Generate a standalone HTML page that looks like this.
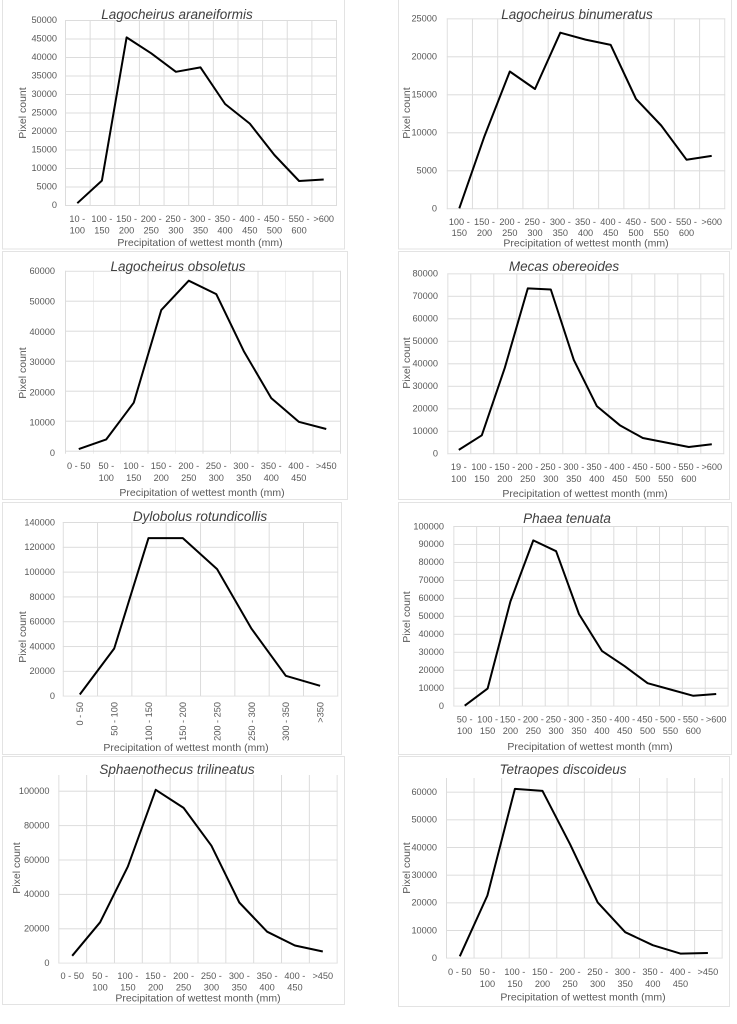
<!DOCTYPE html>
<html><head><meta charset="utf-8"><style>
html,body{margin:0;padding:0;background:#fff}
svg{display:block}
text{font-family:"Liberation Sans",sans-serif;fill:#595959}
.t{font-size:9.2px}
.yl{font-size:9.2px;text-anchor:end}
.xl{font-size:9.2px;text-anchor:middle}
.at{font-size:10.5px;text-anchor:middle}
.ti{font-size:13.5px;font-style:italic;text-anchor:middle;fill:#404040}
.fr{fill:none;stroke:#e3e3e3;stroke-width:1}
.ln{fill:none;stroke:#000;stroke-width:2;stroke-linejoin:round}
.gp{stroke:#dcdcdc;stroke-width:1;fill:none}
</style></head><body>
<svg width="737" height="1024" viewBox="0 0 737 1024" xmlns="http://www.w3.org/2000/svg">
<defs>
<pattern id="g1" x="65" y="20" width="24.64" height="18.5" patternUnits="userSpaceOnUse"><path class="gp" d="M0.5 0V18.5M0 0.5H24.64"/></pattern>
<pattern id="g2" x="446.7" y="18.3" width="25.24" height="38" patternUnits="userSpaceOnUse"><path class="gp" d="M0.5 0V38M0 0.5H25.24"/></pattern>
<pattern id="g3" x="65" y="270.7" width="27.5" height="30" patternUnits="userSpaceOnUse"><path class="gp" d="M0.5 0V30M0 0.5H27.5"/></pattern>
<pattern id="g4" x="447.3" y="273.3" width="23" height="22.5" patternUnits="userSpaceOnUse"><path class="gp" d="M0.5 0V22.5M0 0.5H23"/></pattern>
<pattern id="g5" x="62.7" y="522" width="34.33" height="24.81" patternUnits="userSpaceOnUse"><path class="gp" d="M0.5 0V24.81M0 0.5H34.33"/></pattern>
<pattern id="g6" x="453.3" y="526" width="22.86" height="17.97" patternUnits="userSpaceOnUse"><path class="gp" d="M0.5 0V17.97M0 0.5H22.86"/></pattern>
<pattern id="g7" x="58.3" y="756.3" width="27.84" height="34.4" patternUnits="userSpaceOnUse"><path class="gp" d="M0.5 0V34.4M0 0.5H27.84"/></pattern>
<pattern id="g8" x="446" y="764" width="27.57" height="27.67" patternUnits="userSpaceOnUse"><path class="gp" d="M0.5 0V27.67M0 0.5H27.57"/></pattern>
</defs>

<!-- Panel 1 -->
<rect class="fr" x="2.5" y="-1" width="342" height="250"/>
<rect x="65" y="20" width="272" height="186" fill="url(#g1)"/>
<text class="ti" x="177" y="19">Lagocheirus araneiformis</text>
<g><text class="yl" x="57" y="208">0</text><text class="yl" x="57" y="189.5">5000</text><text class="yl" x="57" y="171">10000</text><text class="yl" x="57" y="152.5">15000</text><text class="yl" x="57" y="134">20000</text><text class="yl" x="57" y="115.5">25000</text><text class="yl" x="57" y="97">30000</text><text class="yl" x="57" y="78.5">35000</text><text class="yl" x="57" y="60">40000</text><text class="yl" x="57" y="41.5">45000</text><text class="yl" x="57" y="23">50000</text></g>
<text class="at" transform="translate(26,113) rotate(-90)">Pixel count</text>
<g><text class="xl" x="77.3" y="222">10 -<tspan x="77.3" dy="11.5">100</tspan></text><text class="xl" x="101.9" y="222">100 -<tspan x="101.9" dy="11.5">150</tspan></text><text class="xl" x="126.6" y="222">150 -<tspan x="126.6" dy="11.5">200</tspan></text><text class="xl" x="151.2" y="222">200 -<tspan x="151.2" dy="11.5">250</tspan></text><text class="xl" x="175.9" y="222">250 -<tspan x="175.9" dy="11.5">300</tspan></text><text class="xl" x="200.5" y="222">300 -<tspan x="200.5" dy="11.5">350</tspan></text><text class="xl" x="225.1" y="222">350 -<tspan x="225.1" dy="11.5">400</tspan></text><text class="xl" x="249.8" y="222">400 -<tspan x="249.8" dy="11.5">450</tspan></text><text class="xl" x="274.4" y="222">450 -<tspan x="274.4" dy="11.5">500</tspan></text><text class="xl" x="299.1" y="222">550 -<tspan x="299.1" dy="11.5">600</tspan></text><text class="xl" x="323.7" y="222">&gt;600</text></g>
<text class="at" x="200" y="246">Precipitation of wettest month (mm)</text>
<polyline class="ln" points="77.3,203.2 101.9,180.6 126.6,37.4 151.2,53.3 175.9,71.8 200.5,67.4 225.1,104 249.8,123.6 274.4,155 299.1,181 323.7,179.5"/>

<!-- Panel 2 -->
<rect class="fr" x="398.5" y="-1" width="333" height="250"/>
<rect x="446.7" y="18.3" width="278.6" height="191" fill="url(#g2)"/>
<text class="ti" x="577" y="19">Lagocheirus binumeratus</text>
<text class="yl" x="437" y="211.5">0</text><text class="yl" x="437" y="173.5">5000</text><text class="yl" x="437" y="135.5">10000</text><text class="yl" x="437" y="97.5">15000</text><text class="yl" x="437" y="59.5">20000</text><text class="yl" x="437" y="21.5">25000</text>
<text class="at" transform="translate(410,113) rotate(-90)">Pixel count</text>
<g><text class="xl" x="459.3" y="225">100 -<tspan x="459.3" dy="11">150</tspan></text><text class="xl" x="484.5" y="225">150 -<tspan x="484.5" dy="11">200</tspan></text><text class="xl" x="509.8" y="225">200 -<tspan x="509.8" dy="11">250</tspan></text><text class="xl" x="535" y="225">250 -<tspan x="535" dy="11">300</tspan></text><text class="xl" x="560.3" y="225">300 -<tspan x="560.3" dy="11">350</tspan></text><text class="xl" x="585.5" y="225">350 -<tspan x="585.5" dy="11">400</tspan></text><text class="xl" x="610.7" y="225">400 -<tspan x="610.7" dy="11">450</tspan></text><text class="xl" x="636" y="225">450 -<tspan x="636" dy="11">500</tspan></text><text class="xl" x="661.2" y="225">500 -<tspan x="661.2" dy="11">550</tspan></text><text class="xl" x="686.5" y="225">550 -<tspan x="686.5" dy="11">600</tspan></text><text class="xl" x="711.7" y="225">&gt;600</text></g>
<text class="at" x="586" y="246.5">Precipitation of wettest month (mm)</text>
<polyline class="ln" points="459.3,208.3 484.5,136.1 509.8,71.5 535,89 560.3,32.7 585.5,39.6 610.7,44.9 636,98.9 661.2,125.5 686.5,159.7 711.7,155.9"/>

<!-- Panel 3 -->
<rect class="fr" x="2.5" y="251.5" width="345" height="248"/>
<rect x="65" y="270.7" width="276" height="183" fill="url(#g3)"/>
<text class="ti" x="178" y="271">Lagocheirus obsoletus</text>
<text class="yl" x="55" y="456">0</text><text class="yl" x="55" y="425.7">10000</text><text class="yl" x="55" y="395.4">20000</text><text class="yl" x="55" y="365.1">30000</text><text class="yl" x="55" y="334.8">40000</text><text class="yl" x="55" y="304.5">50000</text><text class="yl" x="55" y="274">60000</text>
<text class="at" transform="translate(26,373) rotate(-90)">Pixel count</text>
<g><text class="xl" x="78.75" y="469">0 - 50</text><text class="xl" x="106.25" y="469">50 -<tspan x="106.25" dy="12">100</tspan></text><text class="xl" x="133.75" y="469">100 -<tspan x="133.75" dy="12">150</tspan></text><text class="xl" x="161.25" y="469">150 -<tspan x="161.25" dy="12">200</tspan></text><text class="xl" x="188.75" y="469">200 -<tspan x="188.75" dy="12">250</tspan></text><text class="xl" x="216.25" y="469">250 -<tspan x="216.25" dy="12">300</tspan></text><text class="xl" x="243.75" y="469">300 -<tspan x="243.75" dy="12">350</tspan></text><text class="xl" x="271.25" y="469">350 -<tspan x="271.25" dy="12">400</tspan></text><text class="xl" x="298.75" y="469">400 -<tspan x="298.75" dy="12">450</tspan></text><text class="xl" x="326.25" y="469">&gt;450</text></g>
<text class="at" x="202" y="496">Precipitation of wettest month (mm)</text>
<polyline class="ln" points="78.75,449.1 106.25,439.4 133.75,402.7 161.25,310.1 188.75,280.7 216.25,294.1 243.75,351.1 271.25,398.1 298.75,421.8 326.25,429"/>

<!-- Panel 4 -->
<rect class="fr" x="398.5" y="251.5" width="331" height="248"/>
<rect x="447.3" y="273.3" width="277" height="181" fill="url(#g4)"/>
<text class="ti" x="564" y="271">Mecas obereoides</text>
<text class="yl" x="438" y="456.5">0</text><text class="yl" x="438" y="434">10000</text><text class="yl" x="438" y="411.5">20000</text><text class="yl" x="438" y="389">30000</text><text class="yl" x="438" y="366.5">40000</text><text class="yl" x="438" y="344">50000</text><text class="yl" x="438" y="321.5">60000</text><text class="yl" x="438" y="299">70000</text><text class="yl" x="438" y="276.5">80000</text>
<text class="at" transform="translate(410,363) rotate(-90)">Pixel count</text>
<g><text class="xl" x="458.8" y="470">19 -<tspan x="458.8" dy="12">100</tspan></text><text class="xl" x="481.8" y="470">100 -<tspan x="481.8" dy="12">150</tspan></text><text class="xl" x="504.8" y="470">150 -<tspan x="504.8" dy="12">200</tspan></text><text class="xl" x="527.8" y="470">200 -<tspan x="527.8" dy="12">250</tspan></text><text class="xl" x="550.8" y="470">250 -<tspan x="550.8" dy="12">300</tspan></text><text class="xl" x="573.8" y="470">300 -<tspan x="573.8" dy="12">350</tspan></text><text class="xl" x="596.8" y="470">350 -<tspan x="596.8" dy="12">400</tspan></text><text class="xl" x="619.8" y="470">400 -<tspan x="619.8" dy="12">450</tspan></text><text class="xl" x="642.8" y="470">450 -<tspan x="642.8" dy="12">500</tspan></text><text class="xl" x="665.8" y="470">500 -<tspan x="665.8" dy="12">550</tspan></text><text class="xl" x="688.8" y="470">550 -<tspan x="688.8" dy="12">600</tspan></text><text class="xl" x="711.8" y="470">&gt;600</text></g>
<text class="at" x="585" y="497">Precipitation of wettest month (mm)</text>
<polyline class="ln" points="458.8,449.9 481.8,435.3 504.8,367.8 527.8,288.4 550.8,289.5 573.8,359.9 596.8,406.1 619.8,425.2 642.8,438 665.8,442.5 688.8,447 711.8,444.3"/>

<!-- Panel 5 -->
<rect class="fr" x="2.5" y="502.5" width="339" height="252"/>
<rect x="62.7" y="522" width="275.6" height="174.5" fill="url(#g5)"/>
<text class="ti" x="200" y="521">Dylobolus rotundicollis</text>
<text class="yl" x="55" y="699">0</text><text class="yl" x="55" y="674.2">20000</text><text class="yl" x="55" y="649.4">40000</text><text class="yl" x="55" y="624.6">60000</text><text class="yl" x="55" y="599.8">80000</text><text class="yl" x="55" y="575">100000</text><text class="yl" x="55" y="550.2">120000</text><text class="yl" x="55" y="525.4">140000</text>
<text class="at" transform="translate(26,637) rotate(-90)">Pixel count</text>
<g><text class="t" style="text-anchor:end" transform="translate(83,702) rotate(-90)">0 - 50</text><text class="t" style="text-anchor:end" transform="translate(117.5,702) rotate(-90)">50 - 100</text><text class="t" style="text-anchor:end" transform="translate(151.8,702) rotate(-90)">100 - 150</text><text class="t" style="text-anchor:end" transform="translate(186.1,702) rotate(-90)">150 - 200</text><text class="t" style="text-anchor:end" transform="translate(220.4,702) rotate(-90)">200 - 250</text><text class="t" style="text-anchor:end" transform="translate(254.8,702) rotate(-90)">250 - 300</text><text class="t" style="text-anchor:end" transform="translate(289.1,702) rotate(-90)">300 - 350</text><text class="t" style="text-anchor:end" transform="translate(323.4,702) rotate(-90)">&gt;350</text></g>
<text class="at" x="186" y="751">Precipitation of wettest month (mm)</text>
<polyline class="ln" points="79.8,694.5 114.2,648.5 148.5,538.1 182.8,538.1 217.1,569.1 251.5,628.7 285.8,675.8 320.1,685.8"/>

<!-- Panel 6 -->
<rect class="fr" x="398.5" y="502.5" width="333" height="252"/>
<rect x="453.3" y="526" width="275.3" height="180.5" fill="url(#g6)"/>
<text class="ti" x="567" y="523">Phaea tenuata</text>
<text class="yl" x="444" y="709">0</text><text class="yl" x="444" y="691">10000</text><text class="yl" x="444" y="673">20000</text><text class="yl" x="444" y="655.1">30000</text><text class="yl" x="444" y="637.1">40000</text><text class="yl" x="444" y="619.1">50000</text><text class="yl" x="444" y="601.2">60000</text><text class="yl" x="444" y="583.2">70000</text><text class="yl" x="444" y="565.2">80000</text><text class="yl" x="444" y="547.2">90000</text><text class="yl" x="444" y="529.3">100000</text>
<text class="at" transform="translate(410,617) rotate(-90)">Pixel count</text>
<g><text class="xl" x="464.7" y="722.5">50 -<tspan x="464.7" dy="11.5">100</tspan></text><text class="xl" x="487.6" y="722.5">100 -<tspan x="487.6" dy="11.5">150</tspan></text><text class="xl" x="510.4" y="722.5">150 -<tspan x="510.4" dy="11.5">200</tspan></text><text class="xl" x="533.3" y="722.5">200 -<tspan x="533.3" dy="11.5">250</tspan></text><text class="xl" x="556.1" y="722.5">250 -<tspan x="556.1" dy="11.5">300</tspan></text><text class="xl" x="579" y="722.5">300 -<tspan x="579" dy="11.5">350</tspan></text><text class="xl" x="601.9" y="722.5">350 -<tspan x="601.9" dy="11.5">400</tspan></text><text class="xl" x="624.7" y="722.5">400 -<tspan x="624.7" dy="11.5">450</tspan></text><text class="xl" x="647.6" y="722.5">450 -<tspan x="647.6" dy="11.5">500</tspan></text><text class="xl" x="670.4" y="722.5">500 -<tspan x="670.4" dy="11.5">550</tspan></text><text class="xl" x="693.3" y="722.5">550 -<tspan x="693.3" dy="11.5">600</tspan></text><text class="xl" x="716.2" y="722.5">&gt;600</text></g>
<text class="at" x="590" y="750">Precipitation of wettest month (mm)</text>
<polyline class="ln" points="464.7,705.7 487.6,688.6 510.4,601.5 533.3,540.4 556.1,551.2 579,614.1 601.9,650.9 624.7,666.2 647.6,683.2 670.4,689.5 693.3,695.8 716.2,694"/>

<!-- Panel 7 -->
<rect class="fr" x="2.5" y="756.5" width="342" height="248"/>
<rect x="58.3" y="775" width="279.4" height="188.5" fill="url(#g7)"/>
<text class="ti" x="177" y="774">Sphaenothecus trilineatus</text>
<text class="yl" x="49.5" y="966">0</text><text class="yl" x="49.5" y="931.6">20000</text><text class="yl" x="49.5" y="897.2">40000</text><text class="yl" x="49.5" y="862.8">60000</text><text class="yl" x="49.5" y="828.4">80000</text><text class="yl" x="49.5" y="794">100000</text>
<text class="at" transform="translate(20,868) rotate(-90)">Pixel count</text>
<g><text class="xl" x="72.2" y="979">0 - 50</text><text class="xl" x="100.1" y="979">50 -<tspan x="100.1" dy="11.5">100</tspan></text><text class="xl" x="127.9" y="979">100 -<tspan x="127.9" dy="11.5">150</tspan></text><text class="xl" x="155.7" y="979">150 -<tspan x="155.7" dy="11.5">200</tspan></text><text class="xl" x="183.6" y="979">200 -<tspan x="183.6" dy="11.5">250</tspan></text><text class="xl" x="211.4" y="979">250 -<tspan x="211.4" dy="11.5">300</tspan></text><text class="xl" x="239.3" y="979">300 -<tspan x="239.3" dy="11.5">350</tspan></text><text class="xl" x="267.1" y="979">350 -<tspan x="267.1" dy="11.5">400</tspan></text><text class="xl" x="294.9" y="979">400 -<tspan x="294.9" dy="11.5">450</tspan></text><text class="xl" x="322.8" y="979">&gt;450</text></g>
<text class="at" x="198" y="1001.5">Precipitation of wettest month (mm)</text>
<polyline class="ln" points="72.2,955.8 100.1,922.3 127.9,866.4 155.7,789.8 183.6,807.9 211.4,845.7 239.3,902.5 267.1,931.7 294.9,945.5 322.8,951.5"/>

<!-- Panel 8 -->
<rect class="fr" x="398.5" y="756.5" width="331" height="250"/>
<rect x="446" y="778" width="276.7" height="180.5" fill="url(#g8)"/>
<text class="ti" x="563" y="774">Tetraopes discoideus</text>
<text class="yl" x="437" y="961">0</text><text class="yl" x="437" y="933.3">10000</text><text class="yl" x="437" y="905.7">20000</text><text class="yl" x="437" y="878">30000</text><text class="yl" x="437" y="850.3">40000</text><text class="yl" x="437" y="822.7">50000</text><text class="yl" x="437" y="795">60000</text>
<text class="at" transform="translate(410,868) rotate(-90)">Pixel count</text>
<g><text class="xl" x="459.8" y="975">0 - 50</text><text class="xl" x="487.4" y="975">50 -<tspan x="487.4" dy="12">100</tspan></text><text class="xl" x="514.9" y="975">100 -<tspan x="514.9" dy="12">150</tspan></text><text class="xl" x="542.5" y="975">150 -<tspan x="542.5" dy="12">200</tspan></text><text class="xl" x="570.1" y="975">200 -<tspan x="570.1" dy="12">250</tspan></text><text class="xl" x="597.7" y="975">250 -<tspan x="597.7" dy="12">300</tspan></text><text class="xl" x="625.2" y="975">300 -<tspan x="625.2" dy="12">350</tspan></text><text class="xl" x="652.8" y="975">350 -<tspan x="652.8" dy="12">400</tspan></text><text class="xl" x="680.4" y="975">400 -<tspan x="680.4" dy="12">450</tspan></text><text class="xl" x="707.9" y="975">&gt;450</text></g>
<text class="at" x="583" y="1000.5">Precipitation of wettest month (mm)</text>
<polyline class="ln" points="459.8,956.3 487.4,895.5 514.9,788.9 542.5,790.9 570.1,844.3 597.7,902.4 625.2,932.2 652.8,945.2 680.4,953.6 707.9,953"/>
</svg>
</body></html>
